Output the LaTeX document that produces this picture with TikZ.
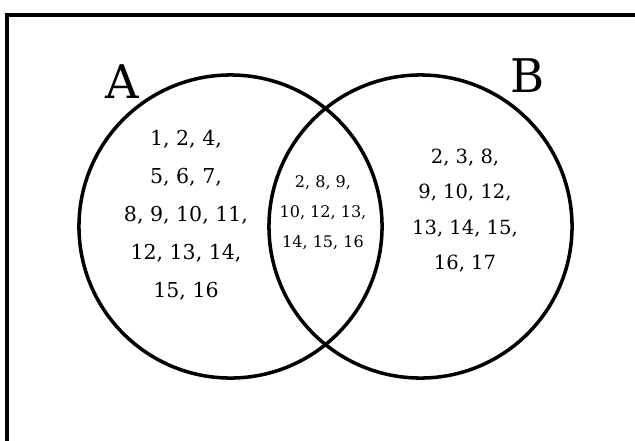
\documentclass[tikz,border=0pt]{standalone}
\usepackage{fontspec}
\setmainfont{DejaVu Serif}
\usetikzlibrary{positioning}
\tikzset{
  frame/.style={draw=black, line width=2.8pt},
  setcircle/.style={circle, draw=black, line width=2.5pt,
    minimum size=7.575cm, inner sep=0pt},
  setlabel/.style={font=\fontsize{33}{40}\selectfont, inner sep=0pt},
  members/.style={align=center, inner sep=0pt}
}
\begin{document}
\begin{tikzpicture}[x=0.025cm, y=-0.025cm]
  \useasboundingbox (0,0) rectangle (635,440);
  \clip (0,0) rectangle (635,440);

  % outer frame (runs off the right and bottom)
  \draw[frame] (7,15) rectangle (700,500);

  % Sets
  \node[setcircle] (setA) at (230.5,226.5) {};
  \node[setcircle] (setB) at (420.5,226.5) {};
  \node[setlabel] (labelA) at (122,82) {A};
  \node[setlabel] (labelB) at (527.5,76) {B};

  % Members
  \node[members, font=\fontsize{14.6}{27}\selectfont] (onlyA) at (186,215)
    {1, 2, 4,\\5, 6, 7,\\8, 9, 10, 11,\\12, 13, 14,\\15, 16};
  \node[members, font=\fontsize{11.4}{21.3}\selectfont] (both) at (323,213)
    {2, 8, 9,\\10, 12, 13,\\14, 15, 16};
  \node[members, font=\fontsize{13.9}{25.2}\selectfont] (onlyB) at (465,210.5)
    {2, 3, 8,\\9, 10, 12,\\13, 14, 15,\\16, 17};
\end{tikzpicture}
\end{document}
